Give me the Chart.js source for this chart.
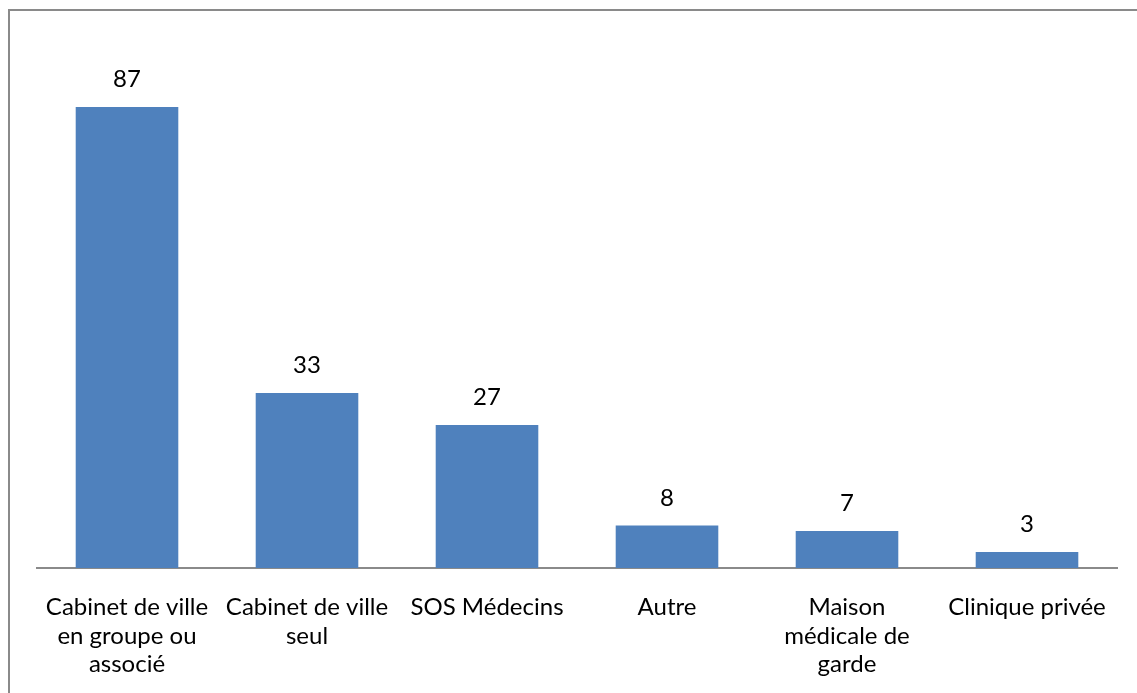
<!DOCTYPE html>
<html>
<head>
<meta charset="utf-8">
<script src="https://cdn.jsdelivr.net/npm/chart.js@4"></script>
<style>
  html, body { margin: 0; padding: 0; background: #ffffff; }
  #wrap { position: relative; width: 1137px; height: 693px; }
</style>
</head>
<body>
<div id="wrap"><canvas id="chart"></canvas></div>
<script>
// categories (multi-line as in the picture)
const categories = [
    ['Cabinet de ville', 'en groupe ou', 'associé'],
    ['Cabinet de ville', 'seul'],
    ['SOS Médecins'],
    ['Autre'],
    ['Maison', 'médicale de', 'garde'],
    ['Clinique privée']
];
const counts = [87, 33, 27, 8, 7, 3];

const fontFamily = 'Lato, "Open Sans", "Noto Sans", sans-serif';

// frame lines along the left and top edges
const framePlugin = {
    id: 'frame',
    beforeDraw(chart) {
        const ctx = chart.ctx;
        ctx.save();
        ctx.strokeStyle = '#8a8a8a';
        ctx.lineWidth = 2;
        ctx.beginPath();
        ctx.moveTo(9, chart.height);
        ctx.lineTo(9, 10);
        ctx.lineTo(chart.width, 10);
        ctx.stroke();
        ctx.restore();
    }
};

// value labels above each bar
const valueLabels = {
    id: 'valueLabels',
    afterDatasetsDraw(chart) {
        const ctx = chart.ctx;
        const meta = chart.getDatasetMeta(0);
        ctx.save();
        ctx.fillStyle = '#000000';
        ctx.font = '24px ' + fontFamily;
        ctx.textAlign = 'center';
        ctx.textBaseline = 'alphabetic';
        meta.data.forEach((bar, i) => {
            ctx.fillText(String(counts[i]), bar.x, bar.y - 20);
        });
        ctx.restore();
    }
};

new Chart(document.getElementById('chart').getContext('2d'), {
    type: 'bar',
    data: {
        labels: categories,
        datasets: [{
            data: counts,
            backgroundColor: '#4f81bd',
            borderWidth: 0,
            barPercentage: 0.57,
            categoryPercentage: 1.0
        }]
    },
    options: {
        responsive: true,
        maintainAspectRatio: false,
        animation: false,
        layout: { padding: { left: 37, right: 20, top: 38, bottom: 0 } },
        plugins: {
            legend: { display: false },
            tooltip: { enabled: false }
        },
        scales: {
            x: {
                afterFit(scale) { scale.height = 125; },
                grid: { display: false, drawTicks: false },
                border: { display: true, color: '#8a8a8a', width: 2 },
                ticks: {
                    color: '#000000',
                    font: { family: fontFamily, size: 24, lineHeight: 1.19 },
                    padding: 25,
                    maxRotation: 0,
                    autoSkip: false
                }
            },
            y: {
                display: false,
                min: 0,
                max: 100
            }
        }
    },
    plugins: [framePlugin, valueLabels]
});
</script>
</body>
</html>
